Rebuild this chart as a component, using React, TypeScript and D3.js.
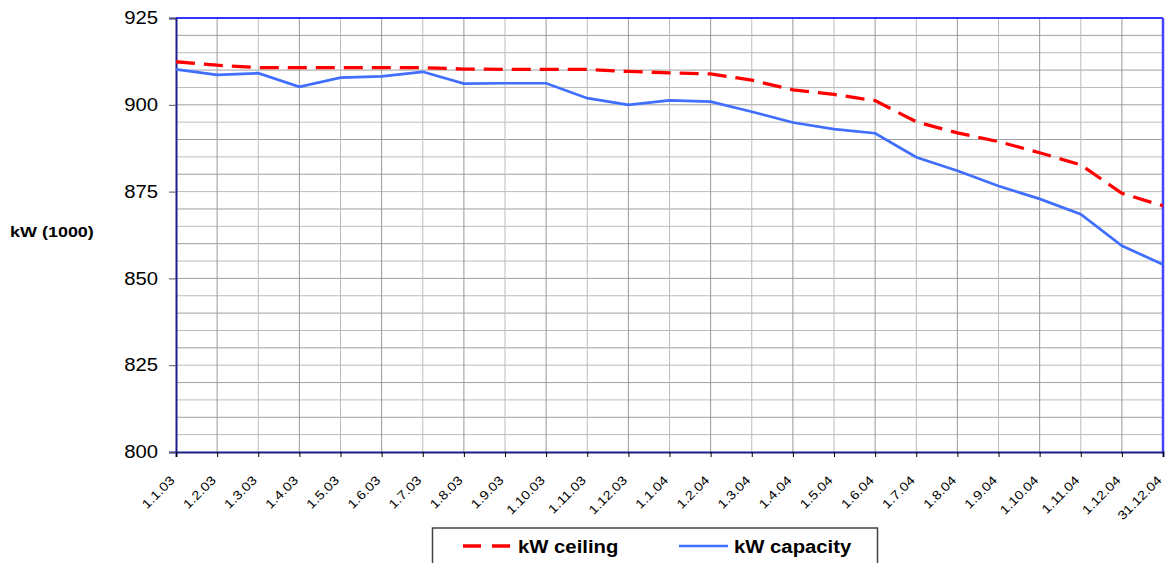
import React, { useEffect, useRef } from 'react';
import * as d3 from 'd3';

// category labels along the x axis
const dates = [
  '1.1.03', '1.2.03', '1.3.03', '1.4.03', '1.5.03', '1.6.03', '1.7.03', '1.8.03',
  '1.9.03', '1.10.03', '1.11.03', '1.12.03', '1.1.04', '1.2.04', '1.3.04', '1.4.04',
  '1.5.04', '1.6.04', '1.7.04', '1.8.04', '1.9.04', '1.10.04', '1.11.04', '1.12.04', '31.12.04',
];

const ceiling = [
  912.4, 911.4, 910.7, 910.7, 910.7, 910.7, 910.7, 910.3, 910.2, 910.2, 910.2, 909.6,
  909.2, 908.9, 907.1, 904.3, 903.0, 901.2, 895.1, 891.9, 889.4, 886.2, 882.7, 874.5, 870.9,
];

const capacity = [
  910.2, 908.6, 909.1, 905.2, 907.8, 908.2, 909.5, 906.1, 906.2, 906.2, 901.9, 900.0,
  901.3, 900.9, 898.0, 894.9, 893.0, 891.8, 884.9, 881.0, 876.6, 872.9, 868.5, 859.4, 854.0,
];

const yTicks = [800, 825, 850, 875, 900, 925];

const FONT = 'Liberation Sans, Arial, sans-serif';
const STRETCH = 1.16; // the original text is a bit wider than Arial

const App = () => {
  const svgRef = useRef<SVGSVGElement>(null);

  useEffect(() => {
    const width = 1170;
    const height = 563;
    const margin = { top: 18, right: 7, bottom: 111, left: 176 };
    const svg = d3.select(svgRef.current);
    svg.selectAll('*').remove();
    svg.attr('width', width).attr('height', height);

    const x = d3.scalePoint<number>()
      .domain(d3.range(dates.length))
      .range([margin.left, width - margin.right]);
    const y = d3.scaleLinear()
      .domain([800, 925])
      .range([height - margin.bottom, margin.top]);

    // horizontal grid, every 5
    svg.append('g')
      .selectAll('line')
      .data(d3.range(805, 925, 5))
      .join('line')
      .attr('x1', margin.left).attr('x2', width - margin.right)
      .attr('y1', d => y(d)).attr('y2', d => y(d))
      .attr('stroke', (d, i) => (i % 2 ? '#a0a0a0' : '#bcbcbc'))
      .attr('stroke-width', 1);

    // vertical grid
    svg.append('g')
      .selectAll('line')
      .data(d3.range(1, dates.length - 1))
      .join('line')
      .attr('x1', d => x(d)!).attr('x2', d => x(d)!)
      .attr('y1', margin.top).attr('y2', height - margin.bottom)
      .attr('stroke', (d, i) => (i % 2 ? '#bcbcbc' : '#999'))
      .attr('stroke-width', 1);

    // plot frame
    const x0 = margin.left, x1 = width - margin.right;
    const y0 = margin.top, y1 = height - margin.bottom;
    svg.append('line').attr('x1', x0).attr('x2', x1).attr('y1', y0).attr('y2', y0)
      .attr('stroke', '#3333ff').attr('stroke-width', 2);
    svg.append('line').attr('x1', x1).attr('x2', x1).attr('y1', y0).attr('y2', y1)
      .attr('stroke', '#4444ff').attr('stroke-width', 2.5);

    // y axis
    const yAxis = svg.append('g')
      .attr('transform', `translate(${x0},0)`)
      .call(d3.axisLeft(y).tickValues(yTicks).tickSize(7).tickFormat(d3.format('d')));
    yAxis.select('.domain').attr('stroke', '#1c1c8c').attr('stroke-width', 2);
    yAxis.selectAll('.tick line').attr('stroke', '#555');
    yAxis.selectAll('text')
      .attr('font-family', FONT)
      .attr('font-size', 17.5)
      .attr('fill', '#000')
      .attr('x', 0)
      .attr('transform', `translate(-18,0) scale(${STRETCH},1)`);

    // x axis
    const xAxis = svg.append('g')
      .attr('transform', `translate(0,${y1})`)
      .call(d3.axisBottom(x).tickSize(5).tickFormat(i => dates[i]));
    xAxis.select('.domain').attr('stroke', '#1c1c8c').attr('stroke-width', 2);
    xAxis.selectAll('.tick line').attr('stroke', '#000');
    xAxis.selectAll('text')
      .attr('font-family', FONT)
      .attr('font-size', 12.5)
      .attr('fill', '#000')
      .attr('text-anchor', 'end')
      .attr('dy', null)
      .attr('y', 0)
      .attr('transform', `translate(-1,29) rotate(-45) scale(${STRETCH},1)`);

    // y title
    svg.append('text')
      .attr('transform', `translate(10,237) scale(${STRETCH},1)`)
      .attr('font-family', FONT)
      .attr('font-size', 15.5)
      .attr('font-weight', 'bold')
      .text('kW (1000)');

    // series lines
    const line = d3.line<number>()
      .x((d, i) => x(i)!)
      .y(d => y(d));

    svg.append('path')
      .datum(ceiling)
      .attr('fill', 'none')
      .attr('stroke', '#ff0000')
      .attr('stroke-width', 3.3)
      .attr('stroke-dasharray', '19,9')
      .attr('d', line);

    svg.append('path')
      .datum(capacity)
      .attr('fill', 'none')
      .attr('stroke', '#406eff')
      .attr('stroke-width', 2.7)
      .attr('d', line);

    // legend
    const lg = svg.append('g');
    lg.append('rect')
      .attr('x', 432.5).attr('y', 528)
      .attr('width', 445).attr('height', 45)
      .attr('fill', '#fff').attr('stroke', '#444').attr('stroke-width', 1.5);
    lg.append('line')
      .attr('x1', 463).attr('x2', 510).attr('y1', 546).attr('y2', 546)
      .attr('stroke', '#ff0000').attr('stroke-width', 3.3).attr('stroke-dasharray', '18,11');
    lg.append('text')
      .attr('transform', `translate(518,553) scale(${STRETCH},1)`)
      .attr('font-family', FONT)
      .attr('font-size', 17.5).attr('font-weight', 'bold')
      .text('kW ceiling');
    lg.append('line')
      .attr('x1', 679).attr('x2', 728).attr('y1', 546).attr('y2', 546)
      .attr('stroke', '#406eff').attr('stroke-width', 2.7);
    lg.append('text')
      .attr('transform', `translate(734,553) scale(${STRETCH},1)`)
      .attr('font-family', FONT)
      .attr('font-size', 17.5).attr('font-weight', 'bold')
      .text('kW capacity');
  }, []);

  return (
    <div style={{ position: 'absolute', left: 0, top: 0 }}>
      <svg ref={svgRef} style={{ display: 'block' }}></svg>
    </div>
  );
};

export default App;
